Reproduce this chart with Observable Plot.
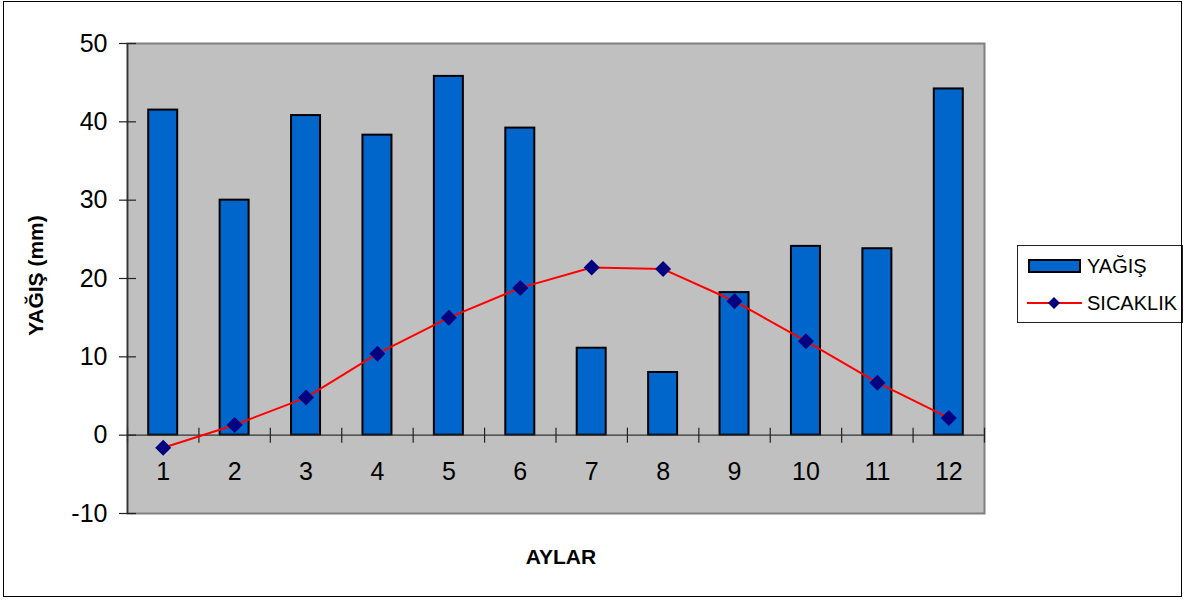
<!DOCTYPE html>
<html>
<head>
<meta charset="utf-8">
<script src="https://cdn.jsdelivr.net/npm/d3@7"></script>
<script src="https://cdn.jsdelivr.net/npm/@observablehq/plot@0.6"></script>
<style>
  html, body { margin: 0; padding: 0; background: #fff; }
  #wrap { position: relative; width: 1188px; height: 601px; font-family: "Liberation Sans", Arial, sans-serif; }
  #chart { position: absolute; left: 0; top: 0; }
  #border { position: absolute; left: 3px; top: 1px; width: 1177px; height: 594px; border: 1.8px solid #000; pointer-events: none; }
  #legend { position: absolute; left: 1017px; top: 245px; width: 166px; height: 78px; border: 1px solid #222; background: #fff; box-sizing: border-box; }
  #legend .item { position: absolute; left: 9px; height: 22px; display: flex; align-items: center; font-size: 20px; color: #000; }
  #legend svg { margin-right: 5px; }
</style>
</head>
<body>
<div id="wrap">
  <div id="chart"></div>
  <div id="legend">
    <div class="item" style="top:9px">
      <svg width="55" height="16"><rect x="2" y="2" width="51" height="12" fill="#0066cc" stroke="#000" stroke-width="2"/></svg>YAĞIŞ
    </div>
    <div class="item" style="top:46px">
      <svg width="55" height="16"><line x1="0" y1="8" x2="55" y2="8" stroke="#ff0000" stroke-width="2"/><path d="M27 2 L33 8 L27 14 L21 8 Z" fill="#000080"/></svg>SICAKLIK
    </div>
  </div>
  <div id="border"></div>
</div>
<script>
// Monthly precipitation (mm) and temperature (°C)
const months = [1, 2, 3, 4, 5, 6, 7, 8, 9, 10, 11, 12];
const yagis = [41.5, 30.0, 40.8, 38.3, 45.8, 39.2, 11.1, 8.0, 18.2, 24.1, 23.8, 44.2];
const sicaklik = [-1.6, 1.3, 4.8, 10.4, 15.0, 18.8, 21.4, 21.2, 17.1, 12.0, 6.7, 2.2];
const yTicks = [-10, 0, 10, 20, 30, 40, 50];

const data = months.map((m, i) => ({ay: m, yagis: yagis[i], sicaklik: sicaklik[i]}));
const boundaries = d3.range(0.5, 13, 1);
const halfBar = 0.203;

const chart = Plot.plot({
  width: 1188,
  height: 601,
  marginLeft: 127,
  marginRight: 204,
  marginTop: 43,
  marginBottom: 88,
  style: {fontFamily: "Liberation Sans, Arial, sans-serif", background: "transparent", overflow: "visible"},
  x: {type: "linear", domain: [0.5, 12.5], axis: null},
  y: {domain: [-10, 50], axis: null},
  marks: [
    Plot.frame({fill: "#c0c0c0", stroke: "#808080", strokeWidth: 2}),
    // precipitation bars
    Plot.rectY(data, {
      x1: d => d.ay - halfBar,
      x2: d => d.ay + halfBar,
      y1: 0,
      y2: "yagis",
      fill: "#0066cc",
      stroke: "#000",
      strokeWidth: 2
    }),
    // category axis along zero, with crossing ticks between months
    Plot.ruleY([0], {stroke: "#333", strokeWidth: 1.2}),
    Plot.ruleX(boundaries, {x: d => d, y1: 0, y2: 0, insetTop: -7, insetBottom: -8, stroke: "#222", strokeWidth: 1.2}),
    Plot.text(months, {x: d => d, y: 0, dy: 37, text: d => String(d), fontSize: 25, fill: "#000"}),
    // value axis
    Plot.ruleX([0.5], {stroke: "#333", strokeWidth: 1.5}),
    Plot.ruleY(yTicks, {y: d => d, x1: 0.5, x2: 0.5, insetLeft: -8, insetRight: -9, stroke: "#222", strokeWidth: 1.2}),
    Plot.text(yTicks, {y: d => d, x: 0.5, dx: -20, text: d => String(d), textAnchor: "end", fontSize: 25, fill: "#000"}),
    // temperature line
    Plot.lineY(data, {x: "ay", y: "sicaklik", stroke: "#ff0000", strokeWidth: 2}),
    Plot.dot(data, {x: "ay", y: "sicaklik", symbol: "diamond2", r: 7.2, fill: "#000080", stroke: "none"}),
    // axis titles
    Plot.text(["YAĞIŞ (mm)"], {frameAnchor: "left", textAnchor: "middle", dx: -91, dy: -3, rotate: -90, fontSize: 21, fontWeight: "bold", fill: "#000"}),
    Plot.text(["AYLAR"], {frameAnchor: "bottom", textAnchor: "middle", dx: 5, dy: 50, fontSize: 21, fontWeight: "bold", fill: "#000"})
  ]
});

document.getElementById("chart").appendChild(chart);
</script>
</body>
</html>
